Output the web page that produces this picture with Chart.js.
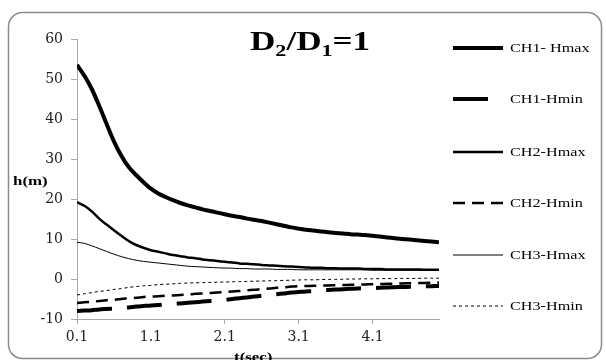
<!DOCTYPE html>
<html>
<head>
<meta charset="utf-8">
<script src="https://cdn.jsdelivr.net/npm/chart.js@4/dist/chart.umd.min.js"></script>
<style>
  html, body { margin: 0; padding: 0; background: #fff; }
  #wrap { width: 606px; height: 360px; position: relative; }
</style>
</head>
<body>
<div id="wrap"><canvas id="chart" width="606" height="360"></canvas></div>
<script>
// time axis (s)
var times = [0.1,0.2,0.3,0.4,0.5,0.6,0.7,0.8,0.9,1.0,
             1.1,1.2,1.3,1.4,1.5,1.6,1.7,1.8,1.9,2.0,
             2.1,2.2,2.3,2.4,2.5,2.6,2.7,2.8,2.9,3.0,
             3.1,3.2,3.3,3.4,3.5,3.6,3.7,3.8,3.9,4.0,
             4.1,4.2,4.3,4.4,4.5,4.6,4.7,4.8,4.9,5.0];
var xTickLabels = [0.1, 1.1, 2.1, 3.1, 4.1];
var yTickLabels = [-10, 0, 10, 20, 30, 40, 50, 60];

var ch1Hmax = [53.5,50.8,47.5,43.3,38.8,34.4,30.8,28,26,24.2,
               22.6,21.4,20.5,19.7,19.0,18.4,17.9,17.4,17.0,16.6,
               16.2,15.8,15.5,15.1,14.8,14.5,14.1,13.7,13.3,12.9,
               12.6,12.3,12.1,11.9,11.7,11.5,11.4,11.2,11.1,11.0,
               10.8,10.6,10.4,10.2,10.0,9.9,9.7,9.5,9.4,9.2];
var ch1Hmin = [-8.0,-7.9,-7.8,-7.6,-7.5,-7.4,-7.2,-7.1,-6.9,-6.75,
               -6.6,-6.5,-6.35,-6.2,-6.1,-5.95,-5.8,-5.65,-5.5,-5.35,
               -5.2,-5.0,-4.8,-4.6,-4.4,-4.2,-4.0,-3.8,-3.6,-3.4,
               -3.25,-3.1,-3.0,-2.85,-2.75,-2.65,-2.55,-2.45,-2.35,-2.3,
               -2.25,-2.2,-2.1,-2.05,-2.0,-1.95,-1.9,-1.85,-1.8,-1.75];
var ch2Hmax = [19.2,18.3,16.9,15.1,13.6,12.2,10.8,9.5,8.5,7.8,
               7.2,6.8,6.4,6.0,5.7,5.4,5.2,4.9,4.7,4.5,
               4.3,4.1,3.9,3.8,3.7,3.5,3.4,3.3,3.2,3.1,
               3.0,2.9,2.8,2.8,2.7,2.7,2.6,2.6,2.6,2.5,
               2.5,2.5,2.4,2.4,2.4,2.4,2.4,2.3,2.3,2.3];
var ch2Hmin = [-6.0,-5.8,-5.7,-5.5,-5.3,-5.2,-5.0,-4.8,-4.7,-4.5,
               -4.4,-4.3,-4.2,-4.1,-4.0,-3.9,-3.7,-3.6,-3.5,-3.35,
               -3.25,-3.1,-3.0,-2.8,-2.7,-2.5,-2.4,-2.2,-2.1,-1.9,
               -1.8,-1.75,-1.7,-1.65,-1.6,-1.55,-1.5,-1.45,-1.4,-1.35,
               -1.3,-1.25,-1.2,-1.15,-1.1,-1.05,-1.0,-1.0,-0.95,-0.9];
var ch3Hmax = [9.2,8.9,8.3,7.6,6.9,6.2,5.6,5.1,4.7,4.4,
               4.2,4.0,3.8,3.6,3.4,3.2,3.1,3.0,2.9,2.8,
               2.75,2.7,2.6,2.6,2.5,2.5,2.5,2.4,2.4,2.4,
               2.3,2.3,2.3,2.3,2.3,2.3,2.3,2.3,2.3,2.3,
               2.2,2.2,2.2,2.2,2.2,2.2,2.2,2.2,2.2,2.2];
var ch3Hmin = [-4.0,-3.7,-3.4,-3.1,-2.9,-2.6,-2.4,-2.1,-1.9,-1.7,
               -1.6,-1.4,-1.3,-1.2,-1.1,-1.0,-0.95,-0.9,-0.85,-0.8,
               -0.75,-0.7,-0.65,-0.6,-0.55,-0.5,-0.45,-0.4,-0.35,-0.3,
               -0.25,-0.2,-0.2,-0.15,-0.1,-0.1,-0.05,0,0,0.05,
               0.05,0.1,0.1,0.1,0.15,0.15,0.15,0.2,0.2,0.2];

function pts(arr) {
    return arr.map(function(v, i) { return { x: times[i], y: v }; });
}

function series(label, arr, width, dash) {
    return {
        label: label,
        data: pts(arr),
        borderColor: '#000',
        backgroundColor: '#000',
        borderWidth: width,
        borderDash: dash,
        borderCapStyle: 'butt',
        pointRadius: 0,
        tension: 0.3,
        fill: false
    };
}

// draws text stretched horizontally, the reference text is wide
function wideText(ctx, str, x, y, sx) {
    ctx.save();
    ctx.translate(x, y);
    ctx.scale(sx, 1);
    ctx.fillText(str, 0, 0);
    var w = ctx.measureText(str).width * sx;
    ctx.restore();
    return w;
}

var decorPlugin = {
    id: 'decor',
    beforeDraw: function(chart) {
        var ctx = chart.ctx;
        // rounded frame
        ctx.save();
        ctx.strokeStyle = '#8c8c8c';
        ctx.lineWidth = 1.5;
        ctx.beginPath();
        ctx.roundRect(8.5, 12.5, 593, 346, 14);
        ctx.stroke();
        ctx.restore();
    },
    afterDraw: function(chart) {
        var ctx = chart.ctx;
        ctx.save();
        ctx.fillStyle = '#000';
        ctx.textBaseline = 'alphabetic';
        ctx.textAlign = 'left';

        // title D2/D1=1
        var sx = 1.3, x = 250;
        var big = 'bold 27px "Liberation Serif"', small = 'bold 17px "Liberation Serif"';
        ctx.font = big;  x += wideText(ctx, 'D', x, 50, sx);
        ctx.font = small; x += wideText(ctx, '2', x, 56, sx);
        ctx.font = big;  x += wideText(ctx, '/D', x, 50, sx);
        ctx.font = small; x += wideText(ctx, '1', x, 56, sx);
        ctx.font = big;  wideText(ctx, '=1', x, 50, sx);

        // axis titles
        ctx.font = 'bold 13px "Liberation Serif"';
        wideText(ctx, 'h(m)', 13, 185, 1.3);
        wideText(ctx, 't(sec)', 234, 361, 1.3);

        // legend
        var ys = [48, 99, 152, 203, 255, 306];
        ctx.font = '12px "Liberation Serif"';
        chart.data.datasets.forEach(function(ds, i) {
            var y = ys[i];
            ctx.save();
            ctx.strokeStyle = ds.borderColor;
            ctx.lineWidth = ds.borderWidth;
            ctx.setLineDash(ds.borderDash || []);
            ctx.beginPath();
            ctx.moveTo(453, y);
            ctx.lineTo(503, y);
            ctx.stroke();
            ctx.restore();
            wideText(ctx, ds.label, 510, y + 4, 1.35);
        });
        ctx.restore();
    }
};

new Chart(document.getElementById('chart').getContext('2d'), {
    type: 'line',
    data: {
        datasets: [
            series('CH1- Hmax', ch1Hmax, 4, []),
            series('CH1-Hmin', ch1Hmin, 4, [35, 15]),
            series('CH2-Hmax', ch2Hmax, 2.5, []),
            series('CH2-Hmin', ch2Hmin, 2.5, [12, 7]),
            series('CH3-Hmax', ch3Hmax, 1, []),
            series('CH3-Hmin', ch3Hmin, 1, [3, 3])
        ]
    },
    options: {
        responsive: false,
        animation: false,
        layout: { padding: { left: 0, top: 39, right: 167, bottom: 0 } },
        plugins: {
            legend: { display: false },
            tooltip: { enabled: false }
        },
        scales: {
            x: {
                type: 'linear',
                min: 0.1,
                max: 5.0,
                afterBuildTicks: function(scale) {
                    scale.ticks = xTickLabels.map(function(v) { return { value: v }; });
                },
                afterFit: function(scale) { scale.height = 41; },
                ticks: {
                    autoSkip: false,
                    maxRotation: 0,
                    padding: 5,
                    color: '#222',
                    font: { family: 'DejaVu Serif', size: 14 },
                    callback: function(v) { return v.toFixed(1); }
                },
                grid: {
                    drawOnChartArea: false,
                    tickLength: 5,
                    color: function(c) { return c.index === 1 ? 'rgba(0,0,0,0)' : '#aaa'; }
                },
                border: { color: '#aaa', width: 1 }
            },
            y: {
                min: -10,
                max: 60,
                afterBuildTicks: function(scale) {
                    scale.ticks = yTickLabels.map(function(v) { return { value: v }; });
                },
                afterFit: function(scale) { scale.width = 77; },
                ticks: {
                    padding: 8,
                    color: '#222',
                    font: { family: 'DejaVu Serif', size: 14 }
                },
                grid: { drawOnChartArea: false, tickLength: 6, color: '#aaa' },
                border: { color: '#aaa', width: 1 }
            }
        }
    },
    plugins: [decorPlugin]
});
</script>
</body>
</html>
